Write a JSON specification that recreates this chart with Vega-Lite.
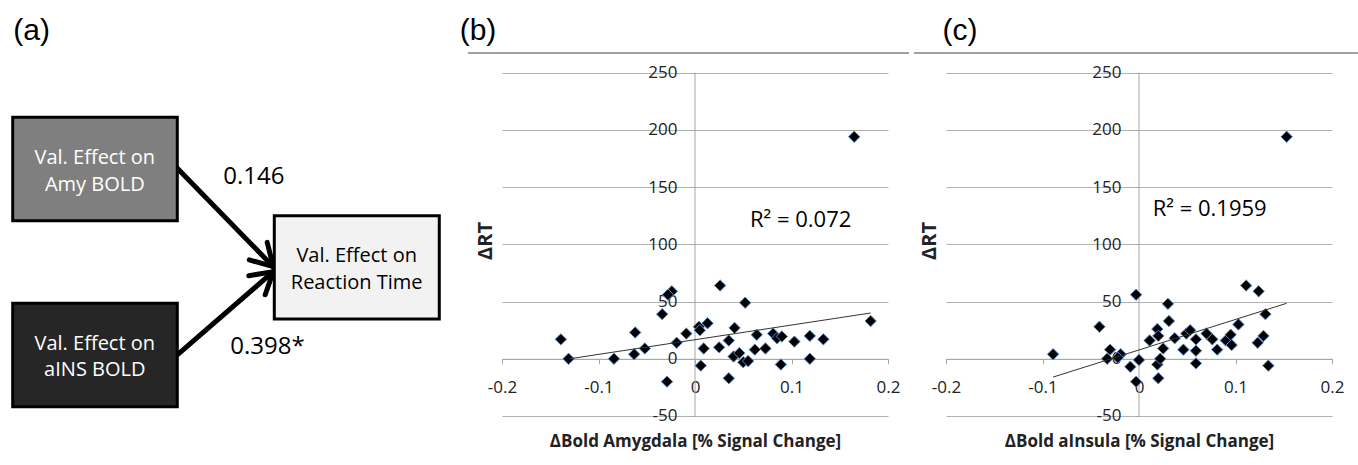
{
  "$schema": "https://vega.github.io/schema/vega-lite/v6.json",
  "background": "white",
  "padding": 0,
  "autosize": {"type": "pad"},
  "spacing": 58,
  "bounds": "flush",
  "config": {
    "view": {"stroke": null},
    "font": "Open Sans",
    "text": {"font": "Open Sans"},
    "axis": {"labelFont": "Open Sans", "titleFont": "Open Sans"}
  },
  "datasets": {
    "one": [{}],
    "boxes": [
      {"box": "amy", "x": 2.86, "x2": 39.93, "y": 25.23, "y2": 47.46},
      {"box": "ains", "x": 2.86, "x2": 39.93, "y": 65.23, "y2": 87.46},
      {"box": "rt", "x": 61.78, "x2": 98.94, "y": 46.39, "y2": 68.6}
    ],
    "boxtext": [
      {"box": "amy", "label": "Val. Effect on", "x": 21.35, "y": 33.9},
      {"box": "amy", "label": "Amy BOLD", "x": 21.35, "y": 39.8},
      {"box": "ains", "label": "Val. Effect on", "x": 21.35, "y": 73.9},
      {"box": "ains", "label": "aINS BOLD", "x": 21.35, "y": 79.6},
      {"box": "rt", "label": "Val. Effect on", "x": 80.33, "y": 55.1},
      {"box": "rt", "label": "Reaction Time", "x": 80.33, "y": 60.8}
    ],
    "paths": [
      {"label": "0.146", "x": 57.17, "y": 38.0},
      {"label": "0.398*", "x": 60.25, "y": 74.56}
    ],
    "arrows": [
      {"x": 39.93, "y": 36.19, "x2": 61.55, "y2": 57.35},
      {"x": 61.55, "y": 57.35, "x2": 60.18, "y2": 52.13},
      {"x": 61.55, "y": 57.35, "x2": 56.15, "y2": 55.89},
      {"x": 39.93, "y": 76.34, "x2": 61.55, "y2": 58.41},
      {"x": 61.55, "y": 58.41, "x2": 56.04, "y2": 59.31},
      {"x": 61.55, "y": 58.41, "x2": 59.73, "y2": 63.38}
    ],
    "amy": [
      {"bold": -0.139, "rt": 17}, {"bold": -0.131, "rt": 0}, {"bold": -0.084, "rt": 0},
      {"bold": -0.062, "rt": 23}, {"bold": -0.063, "rt": 4}, {"bold": -0.052, "rt": 9},
      {"bold": -0.034, "rt": 39}, {"bold": -0.024, "rt": 59}, {"bold": -0.028, "rt": 56},
      {"bold": -0.029, "rt": -20}, {"bold": -0.019, "rt": 14}, {"bold": -0.009, "rt": 22},
      {"bold": 0.004, "rt": 28}, {"bold": 0.005, "rt": 25}, {"bold": 0.013, "rt": 31},
      {"bold": 0.006, "rt": -6}, {"bold": 0.009, "rt": 9}, {"bold": 0.026, "rt": 64},
      {"bold": 0.025, "rt": 10}, {"bold": 0.035, "rt": -17}, {"bold": 0.035, "rt": 16},
      {"bold": 0.041, "rt": 27}, {"bold": 0.040, "rt": 2}, {"bold": 0.046, "rt": 5},
      {"bold": 0.052, "rt": 49}, {"bold": 0.050, "rt": -3}, {"bold": 0.055, "rt": -2},
      {"bold": 0.064, "rt": 21}, {"bold": 0.062, "rt": 8}, {"bold": 0.073, "rt": 9},
      {"bold": 0.081, "rt": 22}, {"bold": 0.085, "rt": 18}, {"bold": 0.090, "rt": 19.5},
      {"bold": 0.089, "rt": -5}, {"bold": 0.103, "rt": 15}, {"bold": 0.119, "rt": 20},
      {"bold": 0.119, "rt": 0}, {"bold": 0.133, "rt": 17}, {"bold": 0.182, "rt": 33},
      {"bold": 0.165, "rt": 194}
    ],
    "amyfit": [{"bold": -0.13, "rt": 0}, {"bold": 0.182, "rt": 40}],
    "ains": [
      {"bold": -0.089, "rt": 4}, {"bold": -0.041, "rt": 28}, {"bold": -0.030, "rt": 8},
      {"bold": -0.033, "rt": 0}, {"bold": -0.019, "rt": 4}, {"bold": -0.022, "rt": 1},
      {"bold": -0.003, "rt": 56}, {"bold": -0.009, "rt": -7}, {"bold": 0.000, "rt": -1},
      {"bold": -0.003, "rt": -20}, {"bold": 0.011, "rt": 16}, {"bold": 0.019, "rt": 26},
      {"bold": 0.020, "rt": 20}, {"bold": 0.019, "rt": -5}, {"bold": 0.022, "rt": 0},
      {"bold": 0.025, "rt": 9}, {"bold": 0.020, "rt": -17}, {"bold": 0.030, "rt": 48},
      {"bold": 0.031, "rt": 33}, {"bold": 0.037, "rt": 18}, {"bold": 0.046, "rt": 8},
      {"bold": 0.049, "rt": 22}, {"bold": 0.053, "rt": 25}, {"bold": 0.059, "rt": 17},
      {"bold": 0.059, "rt": 7}, {"bold": 0.059, "rt": -4}, {"bold": 0.070, "rt": 22},
      {"bold": 0.076, "rt": 17}, {"bold": 0.081, "rt": 8}, {"bold": 0.090, "rt": 16},
      {"bold": 0.095, "rt": 21}, {"bold": 0.096, "rt": 12}, {"bold": 0.103, "rt": 30},
      {"bold": 0.111, "rt": 64}, {"bold": 0.124, "rt": 59}, {"bold": 0.131, "rt": 39},
      {"bold": 0.129, "rt": 20}, {"bold": 0.123, "rt": 14}, {"bold": 0.134, "rt": -6},
      {"bold": 0.153, "rt": 194}
    ],
    "ainsfit": [{"bold": -0.089, "rt": -16}, {"bold": 0.153, "rt": 48.5}]
  },
  "hconcat": [
    {
      "width": 444,
      "height": 465,
      "encoding": {
        "x": {"field": "x", "type": "quantitative", "scale": {"domain": [0, 100], "nice": false, "zero": false}, "axis": null},
        "y": {"field": "y", "type": "quantitative", "scale": {"domain": [0, 100], "nice": false, "zero": false, "reverse": true}, "axis": null}
      },
      "layer": [
        {
          "data": {"name": "arrows"},
          "mark": {"type": "rule", "strokeWidth": 5, "strokeCap": "round", "color": "black"},
          "encoding": {"x2": {"field": "x2"}, "y2": {"field": "y2"}}
        },
        {
          "data": {"name": "boxes"},
          "mark": {"type": "rect", "stroke": "black", "strokeWidth": 3},
          "encoding": {
            "x2": {"field": "x2"},
            "y2": {"field": "y2"},
            "fill": {"field": "box", "type": "nominal", "scale": {"domain": ["amy", "ains", "rt"], "range": ["#7f7f7f", "#262626", "#f2f2f2"]}, "legend": null}
          }
        },
        {
          "data": {"name": "boxtext"},
          "transform": [{"filter": "datum.box !== 'rt'"}],
          "mark": {"type": "text", "color": "white", "fontSize": 20, "baseline": "middle", "align": "center"},
          "encoding": {"text": {"field": "label"}}
        },
        {
          "data": {"name": "boxtext"},
          "transform": [{"filter": "datum.box === 'rt'"}],
          "mark": {"type": "text", "color": "black", "fontSize": 20, "baseline": "middle", "align": "center"},
          "encoding": {"text": {"field": "label"}}
        },
        {
          "data": {"name": "paths"},
          "mark": {"type": "text", "color": "black", "fontSize": 24, "baseline": "middle", "align": "center"},
          "encoding": {"text": {"field": "label"}}
        },
        {
          "data": {"values": [{"label": "(a)", "x": 7.14, "y": 6.56}]},
          "mark": {"type": "text", "color": "black", "font": "Liberation Sans", "fontSize": 30, "baseline": "middle", "align": "center"},
          "encoding": {"text": {"field": "label"}}
        }
      ]
    },
    {
      "width": 386,
      "height": 465,
      "layer": [
        {
          "data": {"name": "one"},
          "mark": {"type": "rule", "color": "#a6a6a6", "strokeWidth": 1},
          "encoding": {"x": {"datum": 0}, "y": {"datum": -50}, "y2": {"datum": 250}}
        },
        {
          "data": {"name": "amy"},
          "mark": {"type": "point", "shape": "diamond", "filled": true, "fill": "black", "stroke": "#5b8ad0", "strokeWidth": 1, "size": 130, "opacity": 1},
          "encoding": {
            "x": {
              "field": "bold", "type": "quantitative", "title": "ΔBold Amygdala [% Signal Change]",
              "scale": {"domain": [-0.2, 0.2], "nice": false, "zero": false},
              "axis": {"values": [-0.2, -0.1, 0, 0.1, 0.2], "format": ".1~f", "labelExpr": "replace(datum.label, '\u2212', '-')", "offset": -106.2, "domainColor": "#a6a6a6", "tickColor": "#a6a6a6", "tickSize": 5, "labelPadding": 16, "labelFontSize": 17, "labelColor": "#222222", "labelFlush": false, "labelOverlap": false, "grid": false, "titleFontSize": 17, "titleFontWeight": "bold", "titleColor": "#222222", "titleY": 88, "titleBaseline": "alphabetic"}
            },
            "y": {
              "field": "rt", "type": "quantitative", "title": "ΔRT",
              "scale": {"domain": [-92.82, 313.53], "nice": false, "zero": false},
              "axis": {"values": [-50, 0, 50, 100, 150, 200, 250], "format": "d", "labelExpr": "replace(datum.label, '\u2212', '-')", "offset": -193, "domain": false, "grid": true, "gridColor": "#b3b3b3", "gridWidth": 1, "tickColor": "#a6a6a6", "tickSize": 5, "labelPadding": 13, "labelFontSize": 17, "labelColor": "#222222", "labelFlush": false, "labelOverlap": false, "titleFontSize": 20, "titleFontWeight": "bold", "titleColor": "#222222", "titleX": -210, "titleY": 240.5, "titleBaseline": "middle", "titleAngle": -90}
            }
          }
        },
        {
          "data": {"name": "one"},
          "mark": {"type": "rule", "color": "#a0a0a0", "strokeWidth": 2},
          "encoding": {"x": {"datum": -0.2352}, "x2": {"datum": 0.2218}, "y": {"datum": 267.2}}
        },
        {
          "data": {"name": "one"},
          "mark": {"type": "text", "font": "Liberation Sans", "fontSize": 30, "color": "black", "baseline": "middle", "align": "center"},
          "encoding": {"x": {"datum": -0.2249}, "y": {"datum": 286.4}, "text": {"value": "(b)"}}
        },
        {
          "data": {"name": "amyfit"},
          "mark": {"type": "line", "color": "#333333", "strokeWidth": 1},
          "encoding": {"x": {"field": "bold", "type": "quantitative"}, "y": {"field": "rt", "type": "quantitative"}}
        },
        {
          "data": {"name": "one"},
          "mark": {"type": "text", "fontSize": 22, "color": "black", "baseline": "middle", "align": "left"},
          "encoding": {"x": {"datum": 0.057}, "y": {"datum": 121.3}, "text": {"value": "R² = 0.072"}}
        }
      ]
    },
    {
      "width": 386,
      "height": 465,
      "layer": [
        {
          "data": {"name": "one"},
          "mark": {"type": "rule", "color": "#a6a6a6", "strokeWidth": 1},
          "encoding": {"x": {"datum": 0}, "y": {"datum": -50}, "y2": {"datum": 250}}
        },
        {
          "data": {"name": "ains"},
          "mark": {"type": "point", "shape": "diamond", "filled": true, "fill": "black", "stroke": "#5b8ad0", "strokeWidth": 1, "size": 130, "opacity": 1},
          "encoding": {
            "x": {
              "field": "bold", "type": "quantitative", "title": "ΔBold aInsula [% Signal Change]",
              "scale": {"domain": [-0.2, 0.2], "nice": false, "zero": false},
              "axis": {"values": [-0.2, -0.1, 0, 0.1, 0.2], "format": ".1~f", "labelExpr": "replace(datum.label, '\u2212', '-')", "offset": -106.2, "domainColor": "#a6a6a6", "tickColor": "#a6a6a6", "tickSize": 5, "labelPadding": 16, "labelFontSize": 17, "labelColor": "#222222", "labelFlush": false, "labelOverlap": false, "grid": false, "titleFontSize": 17, "titleFontWeight": "bold", "titleColor": "#222222", "titleY": 88, "titleBaseline": "alphabetic"}
            },
            "y": {
              "field": "rt", "type": "quantitative", "title": "ΔRT",
              "scale": {"domain": [-92.82, 313.53], "nice": false, "zero": false},
              "axis": {"values": [-50, 0, 50, 100, 150, 200, 250], "format": "d", "labelExpr": "replace(datum.label, '\u2212', '-')", "offset": -193, "domain": false, "grid": true, "gridColor": "#b3b3b3", "gridWidth": 1, "tickColor": "#a6a6a6", "tickSize": 5, "labelPadding": 13, "labelFontSize": 17, "labelColor": "#222222", "labelFlush": false, "labelOverlap": false, "titleFontSize": 20, "titleFontWeight": "bold", "titleColor": "#222222", "titleX": -210, "titleY": 240.5, "titleBaseline": "middle", "titleAngle": -90}
            }
          }
        },
        {
          "data": {"name": "one"},
          "mark": {"type": "rule", "color": "#a0a0a0", "strokeWidth": 2},
          "encoding": {"x": {"datum": -0.2332}, "x2": {"datum": 0.2269}, "y": {"datum": 267.2}}
        },
        {
          "data": {"name": "one"},
          "mark": {"type": "text", "font": "Liberation Sans", "fontSize": 30, "color": "black", "baseline": "middle", "align": "center"},
          "encoding": {"x": {"datum": -0.1855}, "y": {"datum": 286.4}, "text": {"value": "(c)"}}
        },
        {
          "data": {"name": "ainsfit"},
          "mark": {"type": "line", "color": "#333333", "strokeWidth": 1},
          "encoding": {"x": {"field": "bold", "type": "quantitative"}, "y": {"field": "rt", "type": "quantitative"}}
        },
        {
          "data": {"name": "one"},
          "mark": {"type": "text", "fontSize": 22, "color": "black", "baseline": "middle", "align": "left"},
          "encoding": {"x": {"datum": 0.0142}, "y": {"datum": 130.9}, "text": {"value": "R² = 0.1959"}}
        }
      ]
    }
  ]
}
